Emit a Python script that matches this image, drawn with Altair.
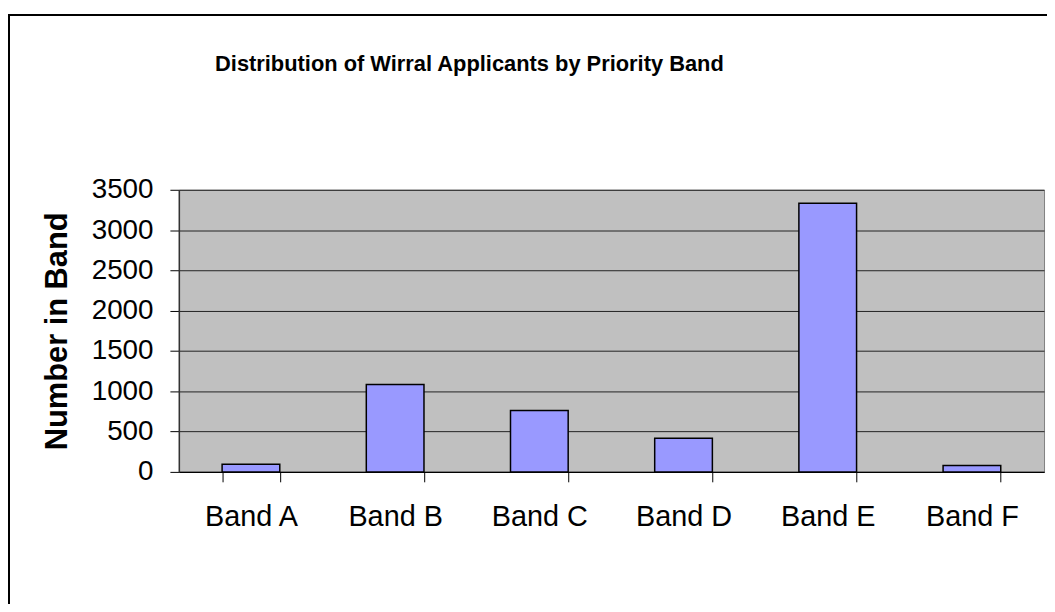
import altair as alt
import pandas as pd

bands = ["Band A", "Band B", "Band C", "Band D", "Band E", "Band F"]
counts = [95, 1085, 762, 416, 3333, 78]
y_ticks = [0, 500, 1000, 1500, 2000, 2500, 3000, 3500]

df = pd.DataFrame({"band": bands, "count": counts})

FONT = "Liberation Sans"

bars = alt.Chart(df).mark_bar(
    color="#9999FF", stroke="#000000", strokeWidth=1.5
).encode(
    x=alt.X(
        "band:N",
        sort=bands,
        scale=alt.Scale(paddingInner=0.6, paddingOuter=0.3),
        axis=alt.Axis(
            title=None,
            labelAngle=0,
            labelFont=FONT,
            labelFontSize=29,
            labelColor="#000000",
            labelPadding=21,
            tickBand="extent",
            tickSize=10,
            tickColor="#000000",
            domainColor="#000000",
            domainWidth=1.5,
        ),
    ),
    y=alt.Y(
        "count:Q",
        scale=alt.Scale(domain=[0, 3500], nice=False),
        axis=alt.Axis(
            title="Number in Band",
            titleFont=FONT,
            titleFontSize=31,
            titleFontWeight="bold",
            titleColor="#000000",
            titlePadding=18,
            values=y_ticks,
            format="d",
            labelFont=FONT,
            labelFontSize=28,
            labelColor="#000000",
            labelPadding=17,
            tickSize=9,
            tickColor="#000000",
            domainColor="#333333",
            domainWidth=1.5,
            grid=True,
            gridColor="#222222",
            gridWidth=1,
        ),
    ),
)

frame = alt.Chart(df).mark_rect(
    fill="transparent", stroke="#000000", strokeWidth=1.5
).encode(
    x=alt.value(-171), x2=alt.value(900), y=alt.value(-176), y2=alt.value(500)
)

chart = alt.layer(frame, bars).properties(
    width=871,
    height=284,
    background="#FFFFFF",
    autosize=alt.AutoSizeParams(type="none"),
    padding={"left": 172, "top": 181, "right": 3, "bottom": 131},
    title=alt.Title(
        "Distribution of Wirral Applicants by Priority Band",
        font=FONT,
        fontSize=22,
        fontWeight="bold",
        color="#000000",
        anchor="middle",
        dx=-143,
        offset=-62,
    ),
).configure_view(
    fill="#C0C0C0", stroke="#808080", strokeWidth=1
)

chart.save("out.html", embed_options={"renderer": "svg", "actions": False})
